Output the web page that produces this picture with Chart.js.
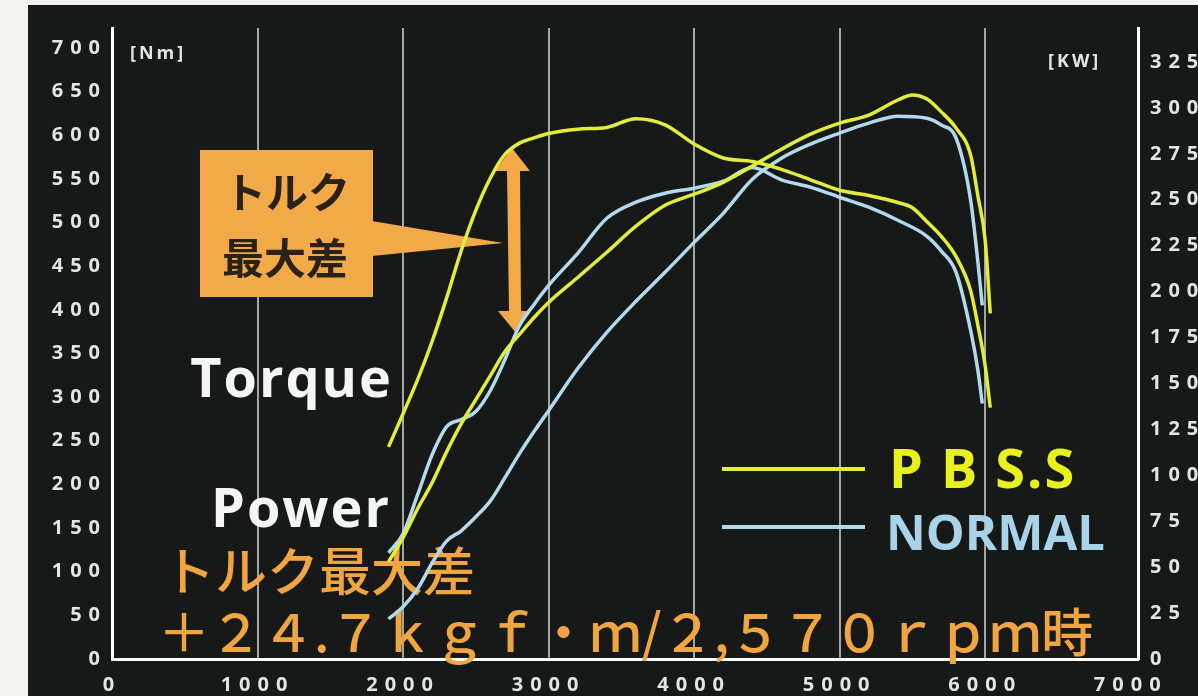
<!DOCTYPE html>
<html>
<head>
<meta charset="utf-8">
<script src="https://cdn.jsdelivr.net/npm/chart.js@4.4.0/dist/chart.umd.min.js"></script>
<style>
  html, body { margin: 0; padding: 0; background: #f1f1ed; overflow: hidden; }
  #panel { position: absolute; left: 28px; top: 5px; width: 1170px; height: 691px; background: #161918; }
  #c { position: absolute; left: 0; top: 0; }
</style>
</head>
<body>
<div id="panel"></div>
<canvas id="c" width="1198" height="696"></canvas>
<script>
// values
var rpmTicks = [0, 1000, 2000, 3000, 4000, 5000, 6000, 7000];
var nmTicks = [0, 50, 100, 150, 200, 250, 300, 350, 400, 450, 500, 550, 600, 650, 700];
var kwTicks = [0, 25, 50, 75, 100, 125, 150, 175, 200, 225, 250, 275, 300, 325];

// PBS.S (yellow)
var rpmPbss = [1900, 2000, 2100, 2200, 2300, 2400, 2500, 2600, 2700, 2800, 2900, 3000, 3200, 3400, 3600, 3800, 4000,
  4200, 4400, 4600, 4800, 5000, 5200, 5400, 5500, 5600, 5700, 5800, 5900, 5950, 6000, 6035];
var torquePbss = [243, 281, 320, 364, 414, 468, 514, 551, 578, 591, 597, 602, 607, 609, 619, 612, 590,
  574, 570, 561, 549, 537, 531, 523, 517, 501, 484, 461, 422, 382, 336, 288];
var powerPbss = [52.9, 66.0, 81.8, 96.0, 112.9, 128.1, 141.2, 154.3, 167.4, 176.7, 185.9, 194.1, 207.7, 221.4, 235.6, 247.0, 253.0,
  259.5, 268.3, 277.5, 285.7, 291.7, 296.1, 304.3, 307.0, 304.8, 297.7, 289.0, 274.3, 252.0, 227.9, 188.1];

// NORMAL (blue)
var rpmNormal = [1900, 2000, 2100, 2200, 2300, 2400, 2500, 2600, 2700, 2800, 2900, 3000, 3200, 3400, 3600, 3800, 4000,
  4200, 4400, 4600, 4800, 5000, 5200, 5400, 5600, 5700, 5800, 5900, 5950, 5980];
var torqueNormal = [121.6, 143.4, 188.2, 234.1, 266.2, 274.3, 283.5, 307.6, 343.1, 382.1, 406.2, 428.0, 464.8, 504.9, 523.3, 533.6, 539.4,
  547.4, 563.0, 549.0, 540.5, 529.0, 517.6, 502.6, 484.3, 467.1, 443.0, 376.4, 330.5, 292.6];
var powerNormal = [21.8, 28.4, 38.2, 52.3, 64.3, 69.8, 77.4, 86.1, 98.7, 111.8, 123.8, 135.2, 158.1, 177.8, 194.7, 210.5, 226.8,
  242.6, 261.2, 272.6, 280.3, 286.3, 291.7, 295.5, 294.4, 290.6, 283.5, 249.7, 215.9, 192.5];

var yellow = "#e3ec3a";
var blue = "#b3d9ec";
var orange = "#f2a947";
var tickColor = "#e4e4e4";

function pts(xs, ys) {
  return xs.map(function (x, i) { return { x: x, y: ys[i] }; });
}

function lineSet(label, data, color, axis) {
  return {
    label: label,
    data: data,
    yAxisID: axis,
    borderColor: color,
    borderWidth: 3.5,
    pointRadius: 0,
    fill: false,
    cubicInterpolationMode: "monotone"
  };
}

// annotations drawn straight on the canvas
var decor = {
  id: "decor",
  beforeDraw: function (chart) {
    chart.ctx.letterSpacing = "7px";
  },
  beforeDatasetsDraw: function (chart) {
    var ctx = chart.ctx;
    ctx.save();
    ctx.letterSpacing = "0px";

    // orange call-out box + pointer
    ctx.fillStyle = orange;
    ctx.fillRect(200, 150, 173, 147);
    ctx.beginPath();
    ctx.moveTo(372, 221);
    ctx.lineTo(503, 243);
    ctx.lineTo(372, 256);
    ctx.closePath();
    ctx.fill();

    // double arrow
    ctx.beginPath();
    ctx.moveTo(512, 148);
    ctx.lineTo(530, 171);
    ctx.lineTo(520, 171);
    ctx.lineTo(521, 311);
    ctx.lineTo(531, 311);
    ctx.lineTo(516, 333);
    ctx.lineTo(498, 311);
    ctx.lineTo(509, 311);
    ctx.lineTo(507, 171);
    ctx.lineTo(495, 171);
    ctx.closePath();
    ctx.fill();

    ctx.fillStyle = "#2a2216";
    ctx.font = "bold 42px 'Noto Sans CJK JP'";
    ctx.textAlign = "center";
    ctx.textBaseline = "middle";
    ctx.fillText("トルク", 287, 192);
    ctx.fillText("最大差", 285, 258);

    // unit labels
    ctx.fillStyle = tickColor;
    ctx.font = "bold 18px 'Open Sans'";
    ctx.textAlign = "left";
    ctx.textBaseline = "alphabetic";
    ctx.letterSpacing = "3px";
    ctx.fillText("[Nm]", 130, 59);
    ctx.fillText("[KW]", 1048, 67);

    // Torque / Power captions
    ctx.fillStyle = "#f5f5f5";
    ctx.font = "bold 54px 'Open Sans'";
    ctx.textAlign = "right";
    ctx.letterSpacing = "2px";
    ctx.fillText("Torque", 393, 397);
    ctx.fillText("Power", 391, 527);

    // legend
    ctx.lineWidth = 4;
    ctx.strokeStyle = yellow;
    ctx.beginPath(); ctx.moveTo(722, 469); ctx.lineTo(865, 469); ctx.stroke();
    ctx.strokeStyle = blue;
    ctx.beginPath(); ctx.moveTo(722, 527); ctx.lineTo(865, 527); ctx.stroke();
    ctx.textAlign = "left";
    ctx.letterSpacing = "2px";
    ctx.fillStyle = "#e8f01e";
    ctx.font = "bold 54px 'Open Sans'";
    ctx.fillText("P B S.S", 889, 488);
    ctx.letterSpacing = "0px";
    ctx.fillStyle = "#a9d3e8";
    ctx.font = "bold 49px 'Open Sans'";
    ctx.fillText("NORMAL", 886, 550);

    // orange note
    ctx.fillStyle = "#f0a540";
    ctx.font = "500 52px 'Noto Sans CJK JP'";
    ctx.fillText("トルク最大差", 163, 591);
    ctx.fillText("＋２４.７ｋｇｆ・ｍ/２,５７０ｒｐｍ時", 158, 652);

    ctx.restore();
  },
  afterDraw: function (chart) {
    chart.ctx.letterSpacing = "0px";
  }
};

var tickFont = { family: "'Open Sans'", size: 20, weight: "bold" };

function plain(v) { return String(v); }

new Chart(document.getElementById("c"), {
  type: "line",
  data: {
    datasets: [
      lineSet("PBS.S torque", pts(rpmPbss, torquePbss), yellow, "yT"),
      lineSet("PBS.S power", pts(rpmPbss, powerPbss), yellow, "yP"),
      lineSet("NORMAL torque", pts(rpmNormal, torqueNormal), blue, "yT"),
      lineSet("NORMAL power", pts(rpmNormal, powerNormal), blue, "yP")
    ]
  },
  options: {
    responsive: false,
    animation: false,
    layout: { padding: { top: 28, left: 0, right: 0, bottom: 0 } },
    plugins: { legend: { display: false }, tooltip: { enabled: false } },
    scales: {
      x: {
        type: "linear",
        min: 0,
        max: 7050,
        afterBuildTicks: function (s) { s.ticks = rpmTicks.map(function (v) { return { value: v }; }); },
        afterFit: function (s) { s.height = 37; },
        grid: {
          drawTicks: false,
          lineWidth: 2,
          color: function (c) {
            var v = c.tick ? c.tick.value : null;
            return (v === 0 || v === 7000) ? "rgba(0,0,0,0)" : "#a4a6a4";
          }
        },
        border: { display: true, color: "#ffffff", width: 3 },
        ticks: { color: tickColor, font: tickFont, padding: 14, maxRotation: 0, autoSkip: false, callback: plain }
      },
      yT: {
        type: "linear",
        position: "left",
        min: 0,
        max: 722.9,
        afterBuildTicks: function (s) { s.ticks = nmTicks.map(function (v) { return { value: v }; }); },
        afterFit: function (s) { s.width = 112; },
        grid: { display: false, drawTicks: false },
        border: { display: true, color: "#ffffff", width: 3 },
        ticks: { color: tickColor, font: tickFont, padding: 5, callback: plain }
      },
      yP: {
        type: "linear",
        position: "right",
        min: 0,
        max: 343.5,
        afterBuildTicks: function (s) { s.ticks = kwTicks.map(function (v) { return { value: v }; }); },
        afterFit: function (s) { s.width = 60; },
        grid: { display: false, drawTicks: false },
        border: { display: true, color: "#ffffff", width: 3 },
        ticks: { color: tickColor, font: tickFont, padding: 12, callback: plain }
      }
    }
  },
  plugins: [decor]
});
</script>
</body>
</html>
